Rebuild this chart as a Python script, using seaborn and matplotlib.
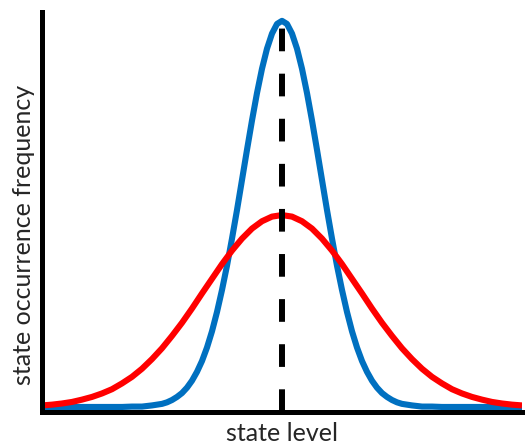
import numpy as np
import pandas as pd

import matplotlib
matplotlib.use("Agg")
import matplotlib.pyplot as plt
import seaborn as sns

# =====================================================
# DATA
# =====================================================

# narrow distribution (blue), sampled finer around the peak
narrow_level = [
    -6.0, -5.0, -4.5, -4.0, -3.75, -3.5, -3.25,
    -3.0, -2.875, -2.75, -2.625, -2.5, -2.375, -2.25, -2.125,
    -2.0, -1.875, -1.75, -1.625, -1.5, -1.375, -1.25, -1.125,
    -1.0, -0.875, -0.75, -0.625, -0.5, -0.375, -0.25, -0.125,
    0.0,
    0.125, 0.25, 0.375, 0.5, 0.625, 0.75, 0.875, 1.0,
    1.125, 1.25, 1.375, 1.5, 1.625, 1.75, 1.875, 2.0,
    2.125, 2.25, 2.375, 2.5, 2.625, 2.75, 2.875, 3.0,
    3.25, 3.5, 3.75, 4.0, 4.5, 5.0, 6.0,
]
narrow_freq = [
    0.0, 0.0, 0.0, 0.0, 0.001, 0.001, 0.004,
    0.008, 0.012, 0.018, 0.026, 0.036, 0.050, 0.068, 0.091,
    0.119, 0.154, 0.196, 0.246, 0.303, 0.366, 0.436, 0.510,
    0.588, 0.666, 0.742, 0.813, 0.876, 0.928, 0.967, 0.992,
    1.0,
    0.992, 0.967, 0.928, 0.876, 0.813, 0.742, 0.666, 0.588,
    0.510, 0.436, 0.366, 0.303, 0.246, 0.196, 0.154, 0.119,
    0.091, 0.068, 0.050, 0.036, 0.026, 0.018, 0.012, 0.008,
    0.004, 0.001, 0.001, 0.0, 0.0, 0.0, 0.0,
]

# broad distribution (red)
broad_level = [
    -6.0, -5.75, -5.5, -5.25, -5.0, -4.75, -4.5, -4.25, -4.0, -3.75,
    -3.5, -3.25, -3.0, -2.75, -2.5, -2.25, -2.0, -1.75, -1.5, -1.25,
    -1.0, -0.75, -0.5, -0.25, 0.0, 0.25, 0.5, 0.75, 1.0, 1.25,
    1.5, 1.75, 2.0, 2.25, 2.5, 2.75, 3.0, 3.25, 3.5, 3.75,
    4.0, 4.25, 4.5, 4.75, 5.0, 5.25, 5.5, 5.75, 6.0,
]
broad_freq = [
    0.004, 0.006, 0.009, 0.013, 0.019, 0.026, 0.035, 0.046, 0.061, 0.078,
    0.099, 0.124, 0.152, 0.184, 0.218, 0.255, 0.294, 0.332, 0.370, 0.405,
    0.436, 0.462, 0.481, 0.493, 0.497, 0.493, 0.481, 0.462, 0.436, 0.405,
    0.370, 0.332, 0.294, 0.255, 0.218, 0.184, 0.152, 0.124, 0.099, 0.078,
    0.061, 0.046, 0.035, 0.026, 0.019, 0.013, 0.009, 0.006, 0.004,
]

peak_level = 0.0

df = pd.DataFrame({
    "level": narrow_level + broad_level,
    "freq": narrow_freq + broad_freq,
    "dist": ["narrow"] * len(narrow_level) + ["broad"] * len(broad_level),
})

# =====================================================
# PLOT
# =====================================================

sns.set_style("white")
plt.rcParams["font.family"] = ["Lato", "DejaVu Sans"]

fig = plt.figure(figsize=(5.27, 4.48), dpi=100)
ax = fig.add_axes([0.0797, 0.0804, 0.9108, 0.8929])

sns.lineplot(
    data=df,
    x="level",
    y="freq",
    hue="dist",
    palette={"narrow": "#0070C0", "broad": "#FF0000"},
    linewidth=4.4,
    legend=False,
    sort=False,
    solid_joinstyle="round",
    solid_capstyle="butt",
    ax=ax,
)

ax.axvline(
    peak_level,
    ymin=0.0,
    ymax=0.9625,
    color="black",
    linewidth=4.3,
    dashes=(3.8, 3.75),
    zorder=5,
)

ax.set_xlim(-6.0, 6.0)
ax.set_ylim(-0.013, 1.023)

ax.set_xticks([])
ax.set_yticks([])

for side in ["top", "right"]:
    ax.spines[side].set_visible(False)
for side in ["left", "bottom"]:
    ax.spines[side].set_linewidth(3.6)
    ax.spines[side].set_color("black")
    ax.spines[side].set_zorder(6)

ax.set_xlabel("state level", fontsize=18, labelpad=7)
ax.set_ylabel("state occurrence frequency", fontsize=18)
ax.yaxis.set_label_coords(-0.014, 0.4425)

fig.savefig("out.png", dpi=100)
plt.close(fig)
